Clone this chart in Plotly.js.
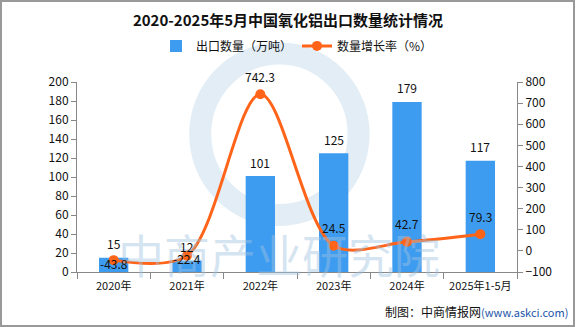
<!DOCTYPE html>
<html>
<head>
<meta charset="utf-8">
<script src="https://cdn.plot.ly/plotly-3.0.1.min.js"></script>
<style>html,body{margin:0;padding:0;background:#fff}#chart{width:576px;height:327px}</style>
</head>
<body>
<div id="chart"></div>
<script>
const categories = ["2020年", "2021年", "2022年", "2023年", "2024年", "2025年1-5月"];
const exportVolume = [15, 12, 101, 125, 179, 117];
const growthRate = [-43.8, -22.4, 742.3, 24.5, 42.7, 79.3];

const font = "'Noto Sans CJK SC', 'DejaVu Sans', sans-serif";

const bars = {
  type: "bar", name: "出口数量（万吨）", x: categories, y: exportVolume,
  marker: {color: "#3E9CF0"}, width: 0.4, hoverinfo: "x+y"
};
const line = {
  type: "scatter", mode: "lines+markers", name: "数量增长率（%）",
  x: categories, y: growthRate, yaxis: "y2",
  line: {color: "#FF6419", width: 3, shape: "spline", smoothing: 0.9},
  marker: {color: "#FF6419", size: 10}
};

const labelFont = {size: 12, color: "#111", family: font};
const barLabels = categories.map((c, i) => ({
  x: c, y: exportVolume[i], xref: "x", yref: "y", text: String(exportVolume[i]),
  showarrow: false, yanchor: "middle", yshift: 14, font: labelFont
}));
const lineLabels = categories.map((c, i) => ({
  x: c, y: growthRate[i], xref: "x", yref: "y2", text: growthRate[i].toFixed(1),
  showarrow: false, yanchor: "middle", yshift: growthRate[i] < 0 ? -3 : 18, font: labelFont
}));

const layout = {
  width: 576, height: 327,
  margin: {l: 77, r: 59, t: 82, b: 55},
  paper_bgcolor: "#fff", plot_bgcolor: "rgba(0,0,0,0)",
  font: {family: font, size: 12, color: "#111"},
  title: {text: "<b>2020-2025年5月中国氧化铝出口数量统计情况</b>", x: 0.5, xanchor: "center", y: 0.938, yanchor: "middle",
          font: {size: 15, color: "#111", family: font}},
  showlegend: true,
  legend: {orientation: "h", x: 0.5, xanchor: "center", y: 1.19, yanchor: "middle",
           font: {size: 12, color: "#111", family: font}, bgcolor: "rgba(0,0,0,0)", traceorder: "normal"},
  xaxis: {showline: true, linecolor: "#888", linewidth: 1, ticks: "outside", ticklen: 6, tickcolor: "#888",
          tickson: "boundaries", showgrid: false, tickfont: {size: 11, color: "#111"}, ticklabelstandoff: 4},
  yaxis: {range: [0, 200], dtick: 20, showline: true, linecolor: "#888", ticks: "outside", ticklen: 5,
          tickcolor: "#888", showgrid: false, zeroline: false, tickfont: {size: 12, color: "#111"}},
  yaxis2: {range: [-100, 800], dtick: 100, overlaying: "y", side: "right", showline: true, linecolor: "#888",
           ticks: "outside", ticklen: 5, tickcolor: "#888", showgrid: false, zeroline: false,
           tickfont: {size: 12, color: "#111"}},
  shapes: [
    {type: "rect", xref: "paper", yref: "paper", x0: -76/440, x1: 1 + 57/440, y0: -54/190, y1: 1 + 81/190,
     line: {color: "#999", width: 2}, fillcolor: "rgba(0,0,0,0)", layer: "below"},
    {type: "circle", xref: "paper", yref: "paper", x0: 0.28, x1: 0.64, y0: 0.3, y1: 1.15,
     line: {color: "rgba(190,215,232,0.45)", width: 22}, fillcolor: "rgba(0,0,0,0)", layer: "below"}
  ],
  annotations: [
    {text: "中商产业研究院", xref: "paper", yref: "paper", x: 0.46, y: 0.1, yanchor: "middle", showarrow: false,
     font: {size: 46, color: "rgba(160,195,225,0.45)", family: font}},
    {text: "制图：中商情报网<span style='color:#2255aa;font-size:11px'>(www.askci.com)</span>", xref: "paper", yref: "paper",
     x: 1.12, xanchor: "right", y: -0.21, yanchor: "middle", showarrow: false,
     font: {size: 12, color: "#111", family: font}}
  ].concat(barLabels, lineLabels)
};

Plotly.newPlot("chart", [bars, line], layout, {displayModeBar: false, staticPlot: true});
</script>
</body>
</html>
